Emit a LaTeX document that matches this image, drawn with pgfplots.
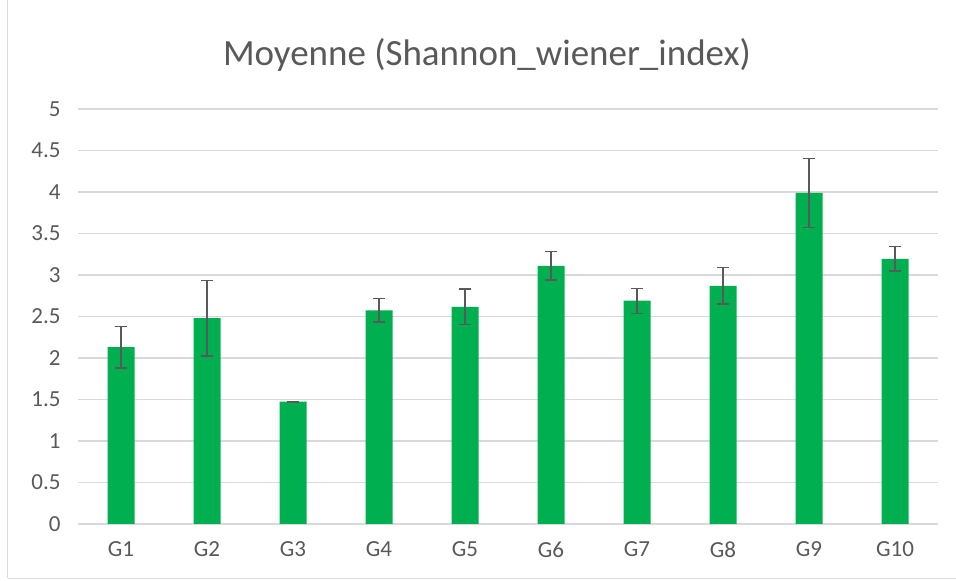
\documentclass[border=0pt]{standalone}
\usepackage{pgfplots}
\pgfplotsset{compat=1.18}
\usepackage{fontspec}
\setmainfont{Carlito}
\definecolor{barg}{HTML}{00B050}
\definecolor{txt}{HTML}{595959}
\definecolor{grd}{HTML}{D9D9D9}
\begin{document}
\begin{tikzpicture}[x=1pt,y=1pt]
\useasboundingbox (0,0) rectangle (956,581);
\draw[grd, line width=1pt] (7.5,2.5) -- (7.5,590);
\draw[grd, line width=1pt] (7.5,2.5) -- (960,2.5);
\node[text=txt, font=\fontsize{37}{44}\selectfont] at (487,526) {Moyenne (Shannon\_wiener\_index)};
\begin{axis}[
  at={(78pt,57pt)}, anchor=south west,
  scale only axis, width=860pt, height=415pt,
  xmin=0.5, xmax=10.5, ymin=0, ymax=5,
  ytick={0,0.5,...,5},
  yticklabels={0,0.5,1,1.5,2,2.5,3,3.5,4,4.5,5},
  xtick={1,...,10},
  xticklabels={G1,G2,G3,G4,G5,G6,G7,G8,G9,G10},
  ymajorgrids, grid style={grd, line width=1.3pt},
  axis line style={draw=none},
  major tick length=0pt,
  tick label style={text=txt, font=\fontsize{23}{27}\selectfont},
  yticklabel style={xshift=-14pt},
  xticklabel style={yshift=-14pt},
  /pgf/number format/assume math mode=true,
  clip=false,
]
\addplot[ybar, bar width=27pt, fill=barg, draw=none,
  error bars/.cd, y dir=both, y explicit,
  error bar style={txt, line width=1.3pt},
  error mark options={rotate=90, txt, line width=1.3pt, mark size=6pt}]
  table[x=x, y=y, y error=e] {
x y e
1 2.13 0.25
2 2.48 0.455
3 1.475 0.005
4 2.575 0.14
5 2.615 0.215
6 3.11 0.17
7 2.69 0.15
8 2.87 0.22
9 3.99 0.415
10 3.195 0.145
};
\end{axis}
\end{tikzpicture}
\end{document}
